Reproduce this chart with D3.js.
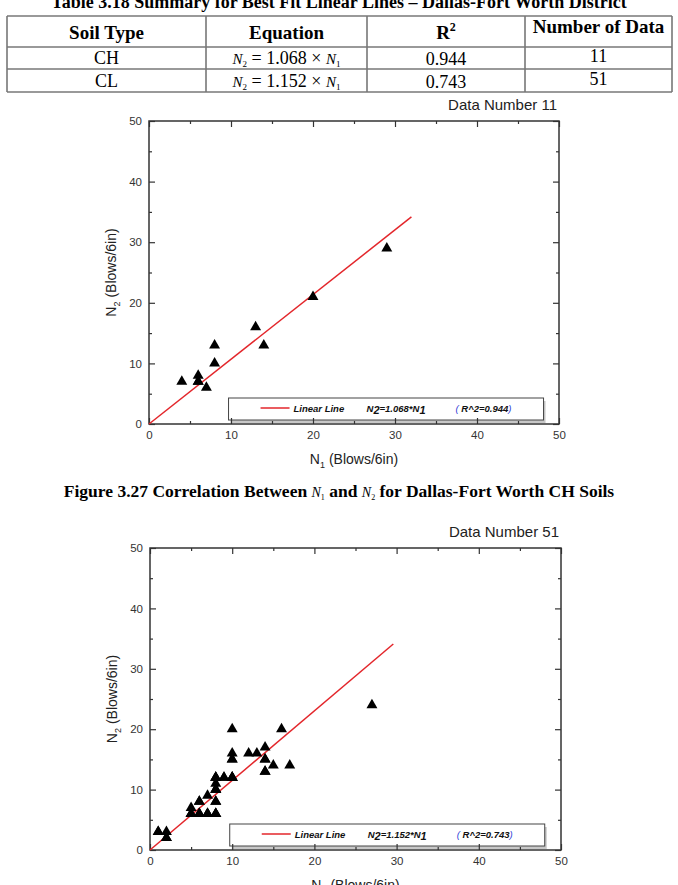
<!DOCTYPE html>
<html lang="en">
<head>
    <meta charset="UTF-8">
    <title>N1 vs N2 Correlation - Dallas-Fort Worth</title>
    <script src="https://d3js.org/d3.v7.min.js"></script>
    <style>
        body {
            margin: 0;
            padding: 0;
            background: #fff;
        }
        .serif { font-family: 'Liberation Serif', 'Times New Roman', serif; }
        .sans { font-family: 'Liberation Sans', Arial, sans-serif; }
        .axis path { display: none; }
        .axis line { stroke: #333; stroke-width: 1.2; }
        .axis text { font-size: 11.5px; fill: #333; font-family: 'Liberation Sans', Arial, sans-serif; }
    </style>
</head>
<body>
    <svg id="page" width="678" height="885"></svg>

    <script>
        // Table data
        const soilTypes = ["CH", "CL"];
        const slopes = ["1.068", "1.152"];
        const r2Values = ["0.944", "0.743"];
        const dataCounts = ["11", "51"];

        // Axis ticks
        const majorTicks = [0, 10, 20, 30, 40, 50];
        const minorTicks = [5, 15, 25, 35, 45];

        // CH soils (11 points, one pair overlaps)
        const chN1 = [4, 6, 6, 6, 7, 8, 8, 13, 14, 20, 29];
        const chN2 = [7, 8, 7, 7, 6, 13, 10, 16, 13, 21, 29];
        const chLineEnd = 32;

        // CL soils (51 points, many overlap)
        const clN1 = [1, 2, 2, 5, 5, 6, 6, 7, 7, 8, 8, 8, 8, 8, 9, 10, 10, 10, 10, 13, 14, 14, 14, 15, 16, 17, 27,
                      2, 5, 6, 6, 7, 8, 8, 8, 8, 8, 9, 10, 10, 10, 12, 14, 14, 1, 5, 6, 7, 8, 8, 10];
        const clN2 = [3, 3, 2, 7, 6, 8, 6, 9, 6, 12, 11, 10, 8, 6, 12, 20, 16, 15, 12, 16, 17, 15, 13, 14, 20, 14, 24,
                      2, 6, 6, 6, 6, 6, 8, 10, 12, 6, 12, 12, 12, 15, 16, 15, 13, 3, 6, 8, 6, 12, 10, 12];
        const clLineEnd = 29.6;

        const svg = d3.select("#page");

        // ---------- Table ----------
        svg.append("text")
            .attr("class", "serif")
            .attr("x", 339).attr("y", 8)
            .attr("text-anchor", "middle")
            .attr("font-size", "18px")
            .attr("font-weight", "bold")
            .text("Table 3.18 Summary for Best Fit Linear Lines – Dallas-Fort Worth District");

        const colEdges = [7, 206, 367, 525, 672];
        const rowEdges = [16, 47, 69, 92];
        const table = svg.append("g").attr("class", "serif");

        table.selectAll("line.h").data(rowEdges).enter().append("line")
            .attr("x1", colEdges[0]).attr("x2", colEdges[colEdges.length - 1])
            .attr("y1", d => d).attr("y2", d => d)
            .attr("stroke", "#777").attr("stroke-width", 1.6);
        table.selectAll("line.v").data(colEdges).enter().append("line")
            .attr("y1", rowEdges[0]).attr("y2", rowEdges[rowEdges.length - 1])
            .attr("x1", d => d).attr("x2", d => d)
            .attr("stroke", "#777").attr("stroke-width", 1.6);

        const colMid = i => (colEdges[i] + colEdges[i + 1]) / 2;

        const header = table.append("g").attr("font-weight", "bold").attr("font-size", "19px")
            .attr("text-anchor", "middle");
        header.append("text").attr("x", colMid(0)).attr("y", 39).text("Soil Type");
        header.append("text").attr("x", colMid(1)).attr("y", 39).text("Equation");
        const rh = header.append("text").attr("x", colMid(2)).attr("y", 39);
        rh.append("tspan").text("R");
        rh.append("tspan").attr("font-size", "12px").attr("dy", -8).text("2");
        header.append("text").attr("x", colMid(3)).attr("y", 33).text("Number of Data");

        soilTypes.forEach((s, i) => {
            const y = (rowEdges[i + 1] + rowEdges[i + 2]) / 2 + 6;
            const row = table.append("g").attr("font-size", "18px").attr("text-anchor", "middle");
            row.append("text").attr("x", colMid(0)).attr("y", y).text(s);
            const eq = row.append("text").attr("x", colMid(1)).attr("y", y);
            eq.append("tspan").attr("font-style", "italic").attr("font-size", "15px").text("N");
            eq.append("tspan").attr("font-size", "9px").attr("dy", 3).text("2");
            eq.append("tspan").attr("dy", -3).text(" = " + slopes[i] + " × ");
            eq.append("tspan").attr("font-style", "italic").attr("font-size", "15px").text("N");
            eq.append("tspan").attr("font-size", "9px").attr("dy", 3).text("1");
            row.append("text").attr("x", colMid(2)).attr("y", y + 1).text(r2Values[i]);
            row.append("text").attr("x", colMid(3)).attr("y", y - 2).text(dataCounts[i]);
        });

        // ---------- Charts ----------
        function drawChart(opt) {
            const { left, right, top, bottom, n1, n2, lineEnd, slope, r2, count } = opt;
            const x = d3.scaleLinear().domain([0, 50]).range([left, right]);
            const y = d3.scaleLinear().domain([0, 50]).range([bottom, top]);
            const g = svg.append("g").attr("class", "sans");

            g.append("text")
                .attr("x", right - 2).attr("y", top - 11)
                .attr("text-anchor", "end")
                .attr("font-size", "15px").attr("fill", "#222")
                .text("Data Number " + count);

            // legend shadow + box (under axes)
            const lx = x(9.7), lw = 315, ly = bottom - 26, lh = 22;
            g.append("rect").attr("x", lx + 2).attr("y", ly + 3).attr("width", lw).attr("height", lh)
                .attr("fill", "#c8c8c8");
            g.append("rect").attr("x", lx).attr("y", ly).attr("width", lw).attr("height", lh)
                .attr("fill", "#fff").attr("stroke", "#444").attr("stroke-width", 1);

            // axes with inward ticks
            g.append("g").attr("class", "axis").attr("transform", `translate(0,${bottom})`)
                .call(d3.axisBottom(x).tickValues(majorTicks).tickSizeInner(-6).tickPadding(7).tickFormat(d3.format("d")));
            g.append("g").attr("class", "axis").attr("transform", `translate(0,${bottom})`)
                .call(d3.axisBottom(x).tickValues(minorTicks).tickSizeInner(-3).tickFormat(""));
            g.append("g").attr("class", "axis").attr("transform", `translate(0,${top})`)
                .call(d3.axisTop(x).tickValues(majorTicks).tickSizeInner(-6).tickFormat(""));
            g.append("g").attr("class", "axis").attr("transform", `translate(0,${top})`)
                .call(d3.axisTop(x).tickValues(minorTicks).tickSizeInner(-3).tickFormat(""));
            g.append("g").attr("class", "axis").attr("transform", `translate(${left},0)`)
                .call(d3.axisLeft(y).tickValues(majorTicks).tickSizeInner(-6).tickPadding(7).tickFormat(d3.format("d")));
            g.append("g").attr("class", "axis").attr("transform", `translate(${left},0)`)
                .call(d3.axisLeft(y).tickValues(minorTicks).tickSizeInner(-3).tickFormat(""));
            g.append("g").attr("class", "axis").attr("transform", `translate(${right},0)`)
                .call(d3.axisRight(y).tickValues(majorTicks).tickSizeInner(-6).tickFormat(""));
            g.append("g").attr("class", "axis").attr("transform", `translate(${right},0)`)
                .call(d3.axisRight(y).tickValues(minorTicks).tickSizeInner(-3).tickFormat(""));

            g.append("rect").attr("x", left).attr("y", top)
                .attr("width", right - left).attr("height", bottom - top)
                .attr("fill", "none").attr("stroke", "#333").attr("stroke-width", 1.5);

            // fit line
            g.append("line")
                .attr("x1", x(0)).attr("y1", y(0))
                .attr("x2", x(lineEnd)).attr("y2", y(lineEnd * slope))
                .attr("stroke", "#e3262b").attr("stroke-width", 1.5);

            // points
            const pts = n1.map((v, i) => [v, n2[i]]);
            g.selectAll("path.pt").data(pts).enter().append("path")
                .attr("d", d3.symbol().type(d3.symbolTriangle).size(52))
                .attr("transform", d => `translate(${x(d[0])},${y(d[1])})`)
                .attr("fill", "#000");

            // legend contents
            const my = ly + 11;
            g.append("line").attr("x1", lx + 32).attr("x2", lx + 61).attr("y1", my - 1).attr("y2", my - 1)
                .attr("stroke", "#e3262b").attr("stroke-width", 1.5);
            const lt = g.append("g").attr("font-size", "9.5px").attr("font-weight", "bold")
                .attr("font-style", "italic").attr("fill", "#111");
            lt.append("text").attr("x", lx + 65).attr("y", my + 3).text("Linear Line");
            const eq = lt.append("text").attr("x", lx + 138).attr("y", my + 3);
            eq.append("tspan").text("N");
            eq.append("tspan").attr("dy", 2).attr("font-size", "11px").text("2");
            eq.append("tspan").attr("dy", -2).text("=" + slope.toFixed(3) + "*N");
            eq.append("tspan").attr("dy", 2).attr("font-size", "11px").text("1");
            const rt = lt.append("text").attr("x", lx + 227).attr("y", my + 3);
            rt.append("tspan").attr("fill", "#2b3bd6").attr("font-weight", "normal").text("( ");
            rt.append("tspan").text("R^2=" + r2);
            rt.append("tspan").attr("fill", "#2b3bd6").attr("font-weight", "normal").text(")");

            // axis titles
            const xt = g.append("text").attr("x", (left + right) / 2).attr("y", bottom + 40)
                .attr("text-anchor", "middle").attr("font-size", "14px").attr("fill", "#222");
            xt.append("tspan").text("N");
            xt.append("tspan").attr("dy", 4).attr("font-size", "9px").text("1");
            xt.append("tspan").attr("dy", -4).text(" (Blows/6in)");

            const yt = g.append("text")
                .attr("transform", `translate(${left - 33},${(top + bottom) / 2}) rotate(-90)`)
                .attr("text-anchor", "middle").attr("font-size", "14px").attr("fill", "#222");
            yt.append("tspan").text("N");
            yt.append("tspan").attr("dy", 4).attr("font-size", "9px").text("2");
            yt.append("tspan").attr("dy", -4).text(" (Blows/6in)");
        }

        drawChart({ left: 149, right: 559, top: 121, bottom: 424, n1: chN1, n2: chN2,
                    lineEnd: chLineEnd, slope: 1.068, r2: r2Values[0], count: dataCounts[0] });
        drawChart({ left: 150, right: 561, top: 548, bottom: 850, n1: clN1, n2: clN2,
                    lineEnd: clLineEnd, slope: 1.152, r2: r2Values[1], count: dataCounts[1] });

        // Figure caption
        const cap = svg.append("text").attr("class", "serif")
            .attr("x", 339).attr("y", 497)
            .attr("text-anchor", "middle").attr("font-size", "17.5px").attr("font-weight", "bold");
        cap.append("tspan").text("Figure 3.27 Correlation Between  ");
        cap.append("tspan").attr("font-style", "italic").attr("font-weight", "normal").attr("font-size", "14px").text("N");
        cap.append("tspan").attr("font-weight", "normal").attr("font-size", "8px").attr("dy", 3).text("1");
        cap.append("tspan").attr("dy", -3).text("  and  ");
        cap.append("tspan").attr("font-style", "italic").attr("font-weight", "normal").attr("font-size", "14px").text("N");
        cap.append("tspan").attr("font-weight", "normal").attr("font-size", "8px").attr("dy", 3).text("2");
        cap.append("tspan").attr("dy", -3).text("  for Dallas-Fort Worth CH Soils");
    </script>
</body>
</html>
